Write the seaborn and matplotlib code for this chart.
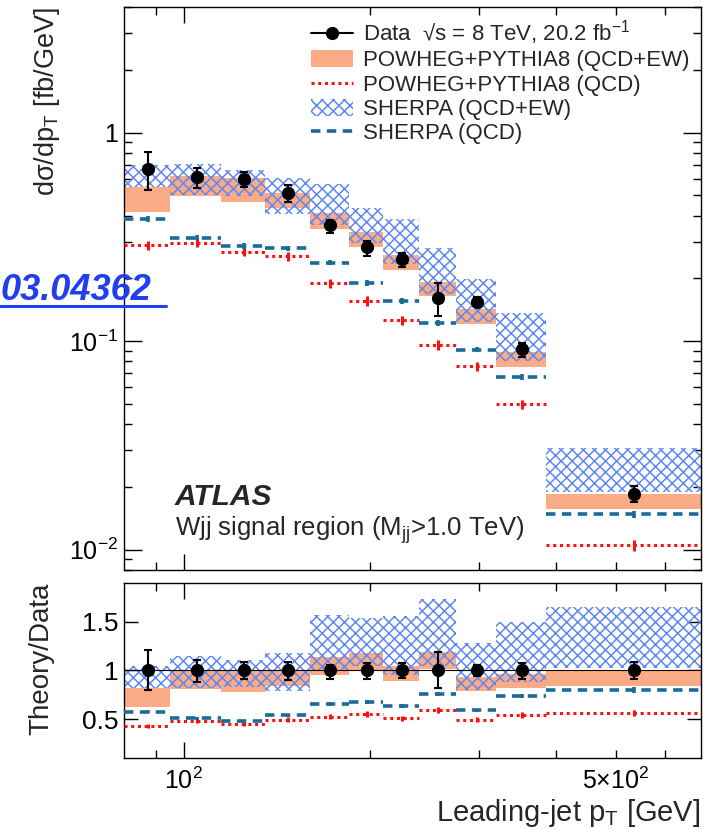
import numpy as np
import matplotlib
matplotlib.use("Agg")
import matplotlib.pyplot as plt
from matplotlib.lines import Line2D
from matplotlib.patches import Patch
from matplotlib.ticker import LogLocator, NullFormatter, NullLocator
import seaborn as sns

# leading-jet pT bin edges [GeV]
edges = [80, 95, 115, 135, 160, 185, 210, 240, 275, 320, 385, 685]

# measured dsigma/dpT [fb/GeV] with total uncertainty band
data = [0.668, 0.615, 0.600, 0.516, 0.361, 0.282, 0.247, 0.161, 0.154, 0.0916, 0.0186]
data_hi = [0.806, 0.680, 0.650, 0.562, 0.382, 0.303, 0.266, 0.191, 0.162, 0.0985, 0.0203]
data_lo = [0.531, 0.545, 0.549, 0.467, 0.330, 0.257, 0.227, 0.132, 0.146, 0.0838, 0.0169]

# POWHEG+PYTHIA8 (QCD+EW) band
powheg_ew_hi = [0.551, 0.620, 0.605, 0.512, 0.411, 0.332, 0.259, 0.192, 0.143, 0.0883, 0.0185]
powheg_ew_lo = [0.418, 0.497, 0.467, 0.434, 0.346, 0.283, 0.220, 0.164, 0.121, 0.0751, 0.0157]
# POWHEG+PYTHIA8 (QCD)
powheg_qcd = [0.289, 0.297, 0.269, 0.255, 0.190, 0.156, 0.126, 0.096, 0.076, 0.0498, 0.0105]
powheg_qcd_rel = [0.05, 0.05, 0.05, 0.05, 0.05, 0.05, 0.05, 0.05, 0.05, 0.05, 0.06]

# SHERPA (QCD+EW) band
sherpa_ew_hi = [0.700, 0.708, 0.663, 0.609, 0.568, 0.434, 0.385, 0.279, 0.198, 0.137, 0.0308]
sherpa_ew_lo = [0.548, 0.504, 0.497, 0.408, 0.361, 0.296, 0.235, 0.169, 0.123, 0.0806, 0.0190]
# SHERPA (QCD)
sherpa_qcd = [0.385, 0.314, 0.286, 0.279, 0.238, 0.190, 0.156, 0.122, 0.091, 0.0673, 0.0148]
sherpa_qcd_rel = [0.03, 0.03, 0.03, 0.03, 0.03, 0.03, 0.03, 0.03, 0.03, 0.03, 0.04]

ORANGE = "#fbab85"
HATCH = "#5f88f0"
RED = "#ff1010"
BLUE = "#1a6a9a"
RED_LS = (0, (1.0, 1.2))
BLUE_LS = (0, (2.6, 1.8))

sns.set_theme(style="ticks")
plt.rcParams["font.family"] = ["Liberation Sans", "DejaVu Sans"]
plt.rcParams["mathtext.fontset"] = "custom"
plt.rcParams["mathtext.rm"] = "Liberation Sans"
plt.rcParams["mathtext.it"] = "Liberation Sans:italic"
plt.rcParams["mathtext.bf"] = "Liberation Sans:bold"
plt.rcParams["hatch.linewidth"] = 1.1
plt.rcParams["axes.edgecolor"] = "black"
plt.rcParams["axes.linewidth"] = 1.0

edges = np.array(edges)
centers = 0.5 * (edges[:-1] + edges[1:])
d = np.array(data)

fig = plt.figure(figsize=(7.12, 8.30), dpi=100)
ax = fig.add_axes([124 / 712, 1 - 570 / 830, 576.7 / 712, 563 / 830])
rax = fig.add_axes([124 / 712, 1 - 758 / 830, 576.7 / 712, 175 / 830])


def draw(a, scale):
    s = np.ones_like(d) if scale is None else scale
    a.stairs(np.array(powheg_ew_hi) / s, edges, baseline=np.array(powheg_ew_lo) / s,
             fill=True, color=ORANGE, lw=0, zorder=1)
    a.stairs(np.array(sherpa_ew_hi) / s, edges, baseline=np.array(sherpa_ew_lo) / s,
             fill=True, facecolor="none", edgecolor=HATCH, hatch="xxx", lw=0, zorder=2)
    pq = np.array(powheg_qcd) / s
    sq = np.array(sherpa_qcd) / s
    # horizontal bin lines only, no vertical connectors
    a.hlines(pq, edges[:-1], edges[1:], color=RED, lw=2.2, linestyles=[RED_LS], zorder=4)
    a.errorbar(centers, pq, yerr=pq * np.array(powheg_qcd_rel), fmt="none",
               ecolor=RED, elinewidth=2.2, capsize=0, zorder=4)
    a.hlines(sq, edges[:-1], edges[1:], color=BLUE, lw=2.6, linestyles=[BLUE_LS], zorder=4)
    a.errorbar(centers, sq, yerr=sq * np.array(sherpa_qcd_rel), fmt="none",
               ecolor=BLUE, elinewidth=2.6, capsize=0, zorder=4)
    dv = d / s
    a.errorbar(centers, dv, yerr=[dv - np.array(data_lo) / s, np.array(data_hi) / s - dv],
               fmt="o", color="black", ms=8.5, elinewidth=1.5, capsize=3, capthick=1.5, zorder=6)


draw(ax, None)
draw(rax, d)
rax.axhline(1.0, color="black", lw=0.8, zorder=3)

for a in (ax, rax):
    a.set_xscale("log")
    a.set_xlim(80, 685)
    a.tick_params(which="both", direction="in", top=True, right=True, colors="black")
    a.tick_params(which="major", length=11.5, width=1.0)
    a.tick_params(which="minor", length=6, width=1.0)

ax.set_yscale("log")
ax.set_ylim(0.008, 4)
ax.set_xticks([100], [""])
ax.set_xticks([90, 200, 300, 400, 500, 600], [""] * 6, minor=True)
ax.set_yticks([0.01, 0.1, 1], ["$10^{-2}$", "$10^{-1}$", "1"])
ax.yaxis.set_minor_locator(LogLocator(base=10, subs=np.arange(2, 10)))
ax.yaxis.set_minor_formatter(NullFormatter())
ax.tick_params(axis="y", which="major", length=13, labelsize=18, pad=4)

rax.set_ylim(0.1, 1.9)
rax.set_xticks([100], ["$10^{2}$"])
rax.set_xticks([90, 200, 300, 400, 500, 600], ["", "", "", "", r"$5{\times}10^{2}$", ""], minor=True)
rax.set_yticks([0.5, 1.0, 1.5], ["0.5", "1", "1.5"])
rax.yaxis.set_minor_locator(NullLocator())
rax.tick_params(axis="x", which="both", labelsize=18, pad=7)
rax.tick_params(axis="y", which="major", length=10, labelsize=19, pad=4)

ax.set_ylabel("dσ/dp$_{\\rm T}$ [fb/GeV]", fontsize=19.5, loc="top")
ax.yaxis.set_label_coords(-0.108, 1.0)
rax.set_ylabel("Theory/Data", fontsize=20, loc="top")
rax.yaxis.set_label_coords(-0.12, 1.0)
rax.set_xlabel("Leading-jet p$_{\\rm T}$ [GeV]", fontsize=21, loc="right")
rax.xaxis.set_label_coords(1.0, -0.225)

ax.text(0.088, 0.1155, "ATLAS", transform=ax.transAxes, fontsize=21.5,
        fontweight="bold", fontstyle="italic")
ax.text(0.088, 0.060, "Wjj signal region (M$_{\\rm jj}$>1.0 TeV)", transform=ax.transAxes,
        fontsize=18.5)

handles = [
    Line2D([], [], color="black", marker="o", ms=8.5, lw=1.5),
    Patch(facecolor=ORANGE, edgecolor="none"),
    Line2D([], [], color=RED, lw=2.2, ls=RED_LS),
    Patch(facecolor="none", edgecolor=HATCH, hatch="xxx", lw=0),
    Line2D([], [], color=BLUE, lw=2.6, ls=BLUE_LS),
]
labels = [
    "Data  √s = 8 TeV, 20.2 fb$^{-1}$",
    "POWHEG+PYTHIA8 (QCD+EW)",
    "POWHEG+PYTHIA8 (QCD)",
    "SHERPA (QCD+EW)",
    "SHERPA (QCD)",
]
ax.legend(handles, labels, loc="upper left", bbox_to_anchor=(0.324, 0.980),
          frameon=False, fontsize=16, borderpad=0, borderaxespad=0,
          handlelength=1.9, handletextpad=0.45, handleheight=0.8, labelspacing=0.14)

# arXiv stamp at the left edge
fig.text(1 / 712, 1 - 300 / 830, "03.04362", ha="left", va="baseline",
         color="#1f3ff0", fontsize=26, fontstyle="italic", fontweight="bold", zorder=10)
fig.add_artist(Line2D([0, 166 / 712], [1 - 306 / 830, 1 - 306 / 830],
                      color="#1f3ff0", lw=2.2, zorder=10))

fig.savefig("out.png", dpi=100)
